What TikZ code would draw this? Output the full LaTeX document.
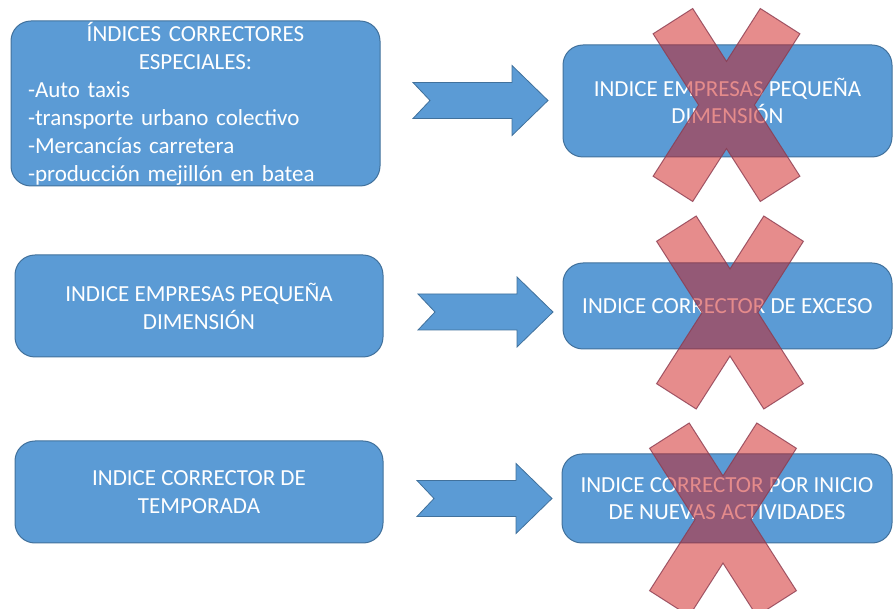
\documentclass[tikz,border=0pt]{standalone}
\usepackage{fontspec}
\setmainfont{Carlito}
\usetikzlibrary{positioning,calc}

\definecolor{boxblue}{RGB}{91,155,213}
\definecolor{boxline}{RGB}{65,113,156}
\definecolor{crossred}{RGB}{205,25,25}
\definecolor{crossline}{RGB}{140,60,80}

\newcommand\boxfont{\fontsize{17.25}{21}\selectfont}
\newcommand\tightfont{\fontsize{17.25}{20}\selectfont}

\tikzset{
  box/.style={draw=boxline, fill=boxblue, line width=0.75pt, rounded corners=15pt,
    text=white, align=center, font=\boxfont, inner sep=0pt},
  blockarrow/.style={draw=boxline, fill=boxblue, line width=0.6pt, line join=miter},
  crossmark/.style={draw=crossline, fill=crossred, fill opacity=0.5, draw opacity=0.8,
    line width=0.75pt}
}

\begin{document}
\begin{tikzpicture}[x=0.75pt, y=-0.75pt]
  \def\px{0.75pt} % one pixel of the reference
  \useasboundingbox (0,0) rectangle (893,609);

  % left column
  \node[box, align=left, minimum width=369*\px, minimum height=165*\px,
        text width=335*\px] (especiales) at (195.5,103.5)
    {{\centering ÍNDICES CORRECTORES\\ESPECIALES:\par}%
     -Auto taxis\\
     -transporte urbano colectivo\\
     -Mercancías carretera\\
     -producción mejillón en batea};
  \node[box, minimum width=368*\px, minimum height=102*\px] (pymes) at (199,306)
    {INDICE EMPRESAS PEQUEÑA\\DIMENSIÓN};
  \node[box, minimum width=368*\px, minimum height=102*\px] (temporada) at (199,492)
    {INDICE CORRECTOR DE\\TEMPORADA};

  % right column
  \node[box, font=\tightfont, minimum width=329*\px, minimum height=112*\px] (pymesR) at (727.5,101)
    {INDICE EMPRESAS PEQUEÑA\\DIMENSIÓN};
  \node[box, font=\tightfont, minimum width=329*\px, minimum height=86*\px] (exceso) at (727.5,306)
    {INDICE CORRECTOR DE EXCESO};
  \node[box, font=\tightfont, minimum width=330*\px, minimum height=89*\px] (inicio) at (727,498.5)
    {INDICE CORRECTOR POR INICIO\\DE NUEVAS ACTIVIDADES};

  % notched block arrows
  \coordinate (A1) at (413,100.5);
  \coordinate (A2) at (418,312);
  \coordinate (A3) at (417,498.5);
  \foreach \i in {1,2,3}
    \draw[blockarrow] ($(A\i)+(0,-18)$) -- ++(99,0) -- ++(0,-17) -- ++(36,35)
      -- ++(-36,35) -- ++(0,-17) -- ++(-99,0) -- ++(17,-18) -- cycle;

  % crosses over the right column
  \coordinate (X1) at (726.5,105);
  \coordinate (X2) at (730,312.5);
  \coordinate (X3) at (723,519.5);
  \foreach \i in {1,2,3}{
    \begin{scope}[shift={(X\i)}]
      \draw[crossmark] (0,-43.6) -- (33.8,-96.5) -- (73.4,-71.2) -- (27.9,0)
        -- (73.4,71.2) -- (33.8,96.5) -- (0,43.6) -- (-33.8,96.5) -- (-73.4,71.2)
        -- (-27.9,0) -- (-73.4,-71.2) -- (-33.8,-96.5) -- cycle;
    \end{scope}
  }
\end{tikzpicture}
\end{document}
